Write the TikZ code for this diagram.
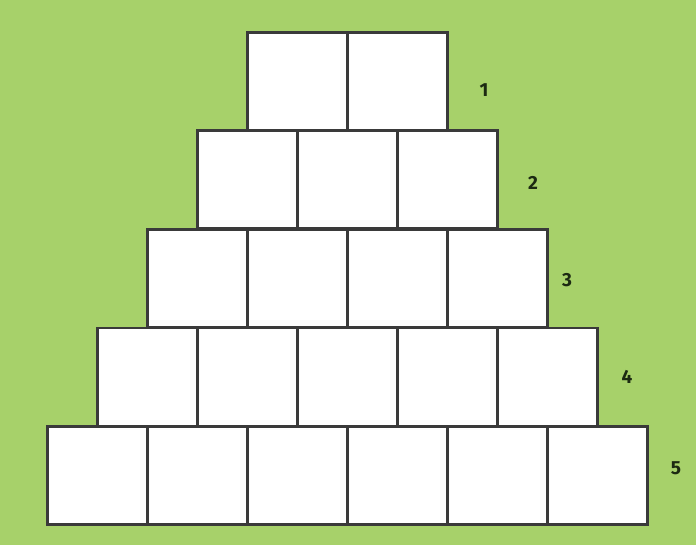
\documentclass[tikz,border=0pt]{standalone}
\usepackage{fontspec}
\setsansfont{Fira Sans}
\usetikzlibrary{positioning}
\definecolor{leafgreen}{HTML}{A7D16A}
\definecolor{edgegray}{HTML}{3A3A3A}
\definecolor{inkgreen}{HTML}{1C2A12}
\tikzset{
  cell/.style={draw=edgegray,line width=2.6pt,fill=white,rectangle,
    minimum width=100pt,minimum height=98pt,inner sep=0pt,anchor=north west},
  rowlab/.style={inkgreen,font=\sffamily\bfseries\fontsize{19}{22}\selectfont}
}
\begin{document}
\begin{tikzpicture}[x=1pt,y=-1pt]
\fill[leafgreen] (0,0) rectangle (696,545);
% Reihe r hat r+1 Kästchen, jede Reihe rückt 50 nach links
\foreach \r in {1,...,5}{
  \pgfmathtruncatemacro{\n}{\r+1}
  \foreach \c in {1,...,\n}{
    \node[cell] (box-\r-\c) at ({246-50*(\r-1)+100*(\c-1)},{31+98.5*(\r-1)}) {};
  }
}
% Nummern rechts neben den Reihen
\node[rowlab] (lab-1) at (484,90) {1};
\node[rowlab] (lab-2) at (533,183) {2};
\node[rowlab] (lab-3) at (567,280) {3};
\node[rowlab] (lab-4) at (627,377) {4};
\node[rowlab] (lab-5) at (676,468) {5};
\end{tikzpicture}
\end{document}
